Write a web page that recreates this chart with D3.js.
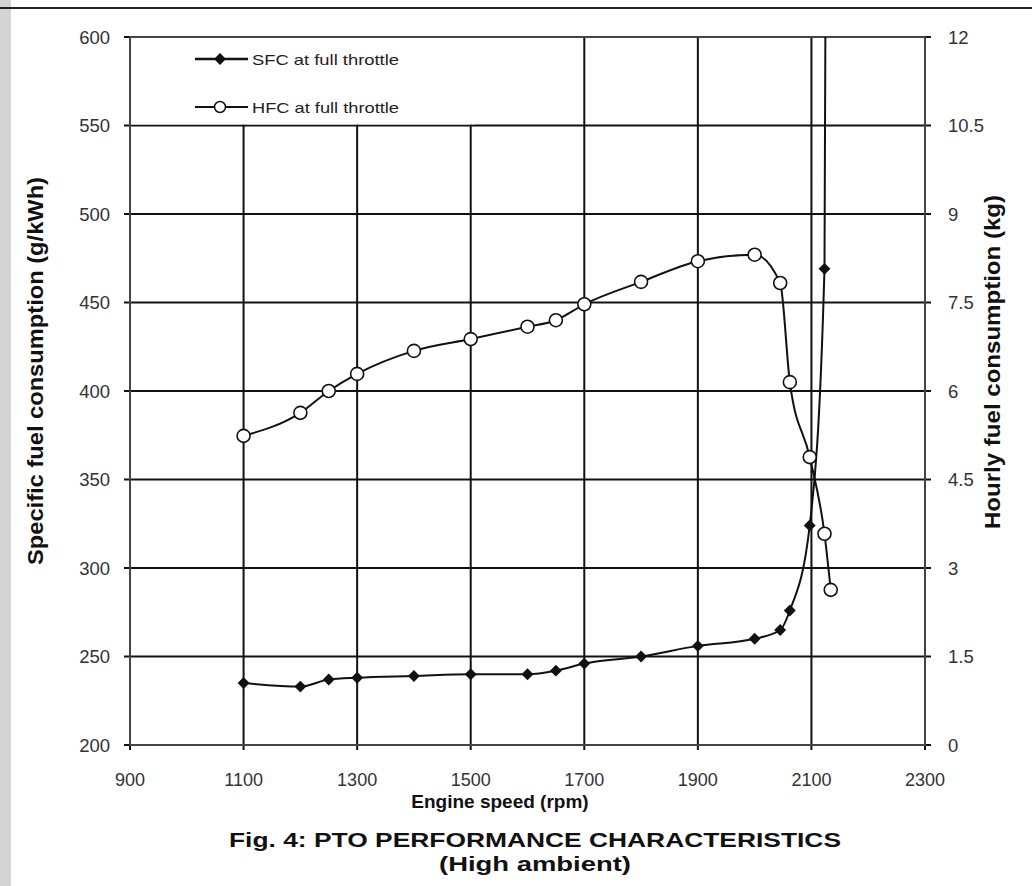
<!DOCTYPE html>
<html>
<head>
<meta charset="utf-8">
<script src="https://cdn.jsdelivr.net/npm/d3@7"></script>
<style>
  body { margin: 0; background: #fff; }
  svg { display: block; font-family: "Liberation Sans", Arial, sans-serif; }
</style>
</head>
<body>
<svg></svg>
<script>
        // engine speed (rpm) at each measured point
        const rpm = [1100, 1200, 1250, 1300, 1400, 1500, 1600, 1650, 1700, 1800, 1900, 2000, 2045, 2062, 2097, 2123, 2134];
        // specific fuel consumption, g/kWh (last point runs off the top of the chart)
        const sfc = [235, 233, 237, 238, 239, 240, 240, 242, 246, 250, 256, 260, 265, 276, 324, 469, 1400];
        // hourly fuel consumption, kg
        const hfc = [5.24, 5.63, 6.0, 6.29, 6.68, 6.88, 7.09, 7.2, 7.47, 7.85, 8.2, 8.31, 7.83, 6.15, 4.88, 3.58, 2.63];

        const xTicks = [900, 1100, 1300, 1500, 1700, 1900, 2100, 2300];
        const leftTicks = [200, 250, 300, 350, 400, 450, 500, 550, 600];
        const rightTicks = [0, 1.5, 3, 4.5, 6, 7.5, 9, 10.5, 12];
        const legendLabels = ["SFC at full throttle", "HFC at full throttle"];

        const svgWidth = 1032;
        const svgHeight = 886;
        const plotLeft = 130, plotRight = 925, plotTop = 37, plotBottom = 745;

        const svg = d3.select("svg")
            .attr("width", svgWidth)
            .attr("height", svgHeight);

        svg.append("rect").attr("width", svgWidth).attr("height", svgHeight).attr("fill", "#fff");

        // scan edge artefacts
        svg.append("rect").attr("x", 0).attr("y", 0).attr("width", 11).attr("height", svgHeight).attr("fill", "#d4d4d4");
        svg.append("line").attr("x1", 0).attr("x2", svgWidth).attr("y1", 8).attr("y2", 8)
            .attr("stroke", "#222").attr("stroke-width", 2);

        const x = d3.scaleLinear().domain([900, 2300]).range([plotLeft, plotRight]);
        const yL = d3.scaleLinear().domain([200, 600]).range([plotBottom, plotTop]);
        const yR = d3.scaleLinear().domain([0, 12]).range([plotBottom, plotTop]);

        // grid
        svg.append("g").selectAll("line")
            .data(leftTicks)
            .enter().append("line")
            .attr("x1", plotLeft - 6).attr("x2", plotRight + 6)
            .attr("y1", d => yL(d)).attr("y2", d => yL(d))
            .attr("stroke", "#111").attr("stroke-width", 2);

        svg.append("g").selectAll("line")
            .data(xTicks)
            .enter().append("line")
            .attr("x1", d => x(d)).attr("x2", d => x(d))
            .attr("y1", plotTop).attr("y2", plotBottom + 5)
            .attr("stroke", "#111").attr("stroke-width", 2);

        // legend box hides the top-left grid
        svg.append("rect")
            .attr("x", plotLeft + 1).attr("y", plotTop + 1)
            .attr("width", x(1500) - plotLeft + 2).attr("height", yL(550) - plotTop - 2)
            .attr("fill", "#fff");

        // frame
        svg.append("rect")
            .attr("x", plotLeft).attr("y", plotTop)
            .attr("width", plotRight - plotLeft).attr("height", plotBottom - plotTop)
            .attr("fill", "none").attr("stroke", "#444").attr("stroke-width", 2);

        // tick labels
        svg.append("g").selectAll("text")
            .data(xTicks)
            .enter().append("text")
            .attr("x", d => x(d)).attr("y", 786)
            .attr("text-anchor", "middle")
            .attr("font-size", 18).attr("fill", "#333")
            .text(d => d);

        svg.append("g").selectAll("text")
            .data(leftTicks)
            .enter().append("text")
            .attr("x", 110).attr("y", d => yL(d) + 6.5)
            .attr("text-anchor", "end")
            .attr("font-size", 18.5).attr("fill", "#333")
            .text(d => d);

        svg.append("g").selectAll("text")
            .data(rightTicks)
            .enter().append("text")
            .attr("x", 948).attr("y", d => yR(d) + 6.5)
            .attr("text-anchor", "start")
            .attr("font-size", 18.5).attr("fill", "#333")
            .text(d => d);

        // axis titles
        svg.append("text")
            .attr("x", 500).attr("y", 808)
            .attr("text-anchor", "middle")
            .attr("font-size", 19).attr("font-weight", "bold").attr("fill", "#111")
            .text("Engine speed (rpm)");

        svg.append("text")
            .attr("transform", "translate(43,371) rotate(-90)")
            .attr("text-anchor", "middle")
            .attr("font-size", 22).attr("font-weight", "bold").attr("fill", "#111")
            .attr("textLength", 388).attr("lengthAdjust", "spacingAndGlyphs")
            .text("Specific fuel consumption (g/kWh)");

        svg.append("text")
            .attr("transform", "translate(1000,362) rotate(-90)")
            .attr("text-anchor", "middle")
            .attr("font-size", 22).attr("font-weight", "bold").attr("fill", "#111")
            .attr("textLength", 334).attr("lengthAdjust", "spacingAndGlyphs")
            .text("Hourly fuel consumption (kg)");

        svg.append("text")
            .attr("x", 535).attr("y", 847)
            .attr("text-anchor", "middle")
            .attr("font-size", 20.5).attr("font-weight", "bold").attr("fill", "#111")
            .attr("textLength", 612).attr("lengthAdjust", "spacingAndGlyphs")
            .text("Fig. 4: PTO PERFORMANCE CHARACTERISTICS");

        svg.append("text")
            .attr("x", 535).attr("y", 871)
            .attr("text-anchor", "middle")
            .attr("font-size", 20.5).attr("font-weight", "bold").attr("fill", "#111")
            .attr("textLength", 192).attr("lengthAdjust", "spacingAndGlyphs")
            .text("(High ambient)");

        // series
        svg.append("clipPath").attr("id", "plot")
            .append("rect").attr("x", plotLeft).attr("y", plotTop)
            .attr("width", plotRight - plotLeft).attr("height", plotBottom - plotTop);

        const sfcPts = rpm.map((r, i) => [r, sfc[i]]);
        const hfcPts = rpm.map((r, i) => [r, hfc[i]]);

        const sfcLine = d3.line().x(d => x(d[0])).y(d => yL(d[1])).curve(d3.curveMonotoneX);
        const hfcLine = d3.line().x(d => x(d[0])).y(d => yR(d[1])).curve(d3.curveMonotoneX);

        const plot = svg.append("g").attr("clip-path", "url(#plot)");

        plot.append("path")
            .attr("d", sfcLine(sfcPts))
            .attr("fill", "none").attr("stroke", "#111").attr("stroke-width", 2);

        plot.append("path")
            .attr("d", hfcLine(hfcPts))
            .attr("fill", "none").attr("stroke", "#111").attr("stroke-width", 2);

        const diamond = d3.symbol().type(d3.symbolDiamond2).size(90);

        plot.selectAll("path.sfc")
            .data(sfcPts)
            .enter().append("path")
            .attr("class", "sfc")
            .attr("transform", d => `translate(${x(d[0])},${yL(d[1])})`)
            .attr("d", diamond)
            .attr("fill", "#111");

        plot.selectAll("circle.hfc")
            .data(hfcPts)
            .enter().append("circle")
            .attr("class", "hfc")
            .attr("cx", d => x(d[0]))
            .attr("cy", d => yR(d[1]))
            .attr("r", 6.5)
            .attr("fill", "#fff")
            .attr("stroke", "#111").attr("stroke-width", 1.6);

        // legend
        const legend = svg.append("g");
        legendLabels.forEach((label, i) => {
            const ly = 59 + i * 48;
            legend.append("line")
                .attr("x1", 195).attr("x2", 248).attr("y1", ly).attr("y2", ly)
                .attr("stroke", "#111").attr("stroke-width", i === 0 ? 2.5 : 1.8);
            if (i === 0) {
                legend.append("path")
                    .attr("transform", `translate(220,${ly})`)
                    .attr("d", diamond)
                    .attr("fill", "#111");
            } else {
                legend.append("circle")
                    .attr("cx", 220).attr("cy", ly).attr("r", 5.5)
                    .attr("fill", "#fff").attr("stroke", "#111").attr("stroke-width", 1.5);
            }
            legend.append("text")
                .attr("x", 252).attr("y", ly + 5.5)
                .attr("font-size", 15).attr("fill", "#222")
                .attr("textLength", 147).attr("lengthAdjust", "spacingAndGlyphs")
                .text(label);
        });
</script>
</body>
</html>
